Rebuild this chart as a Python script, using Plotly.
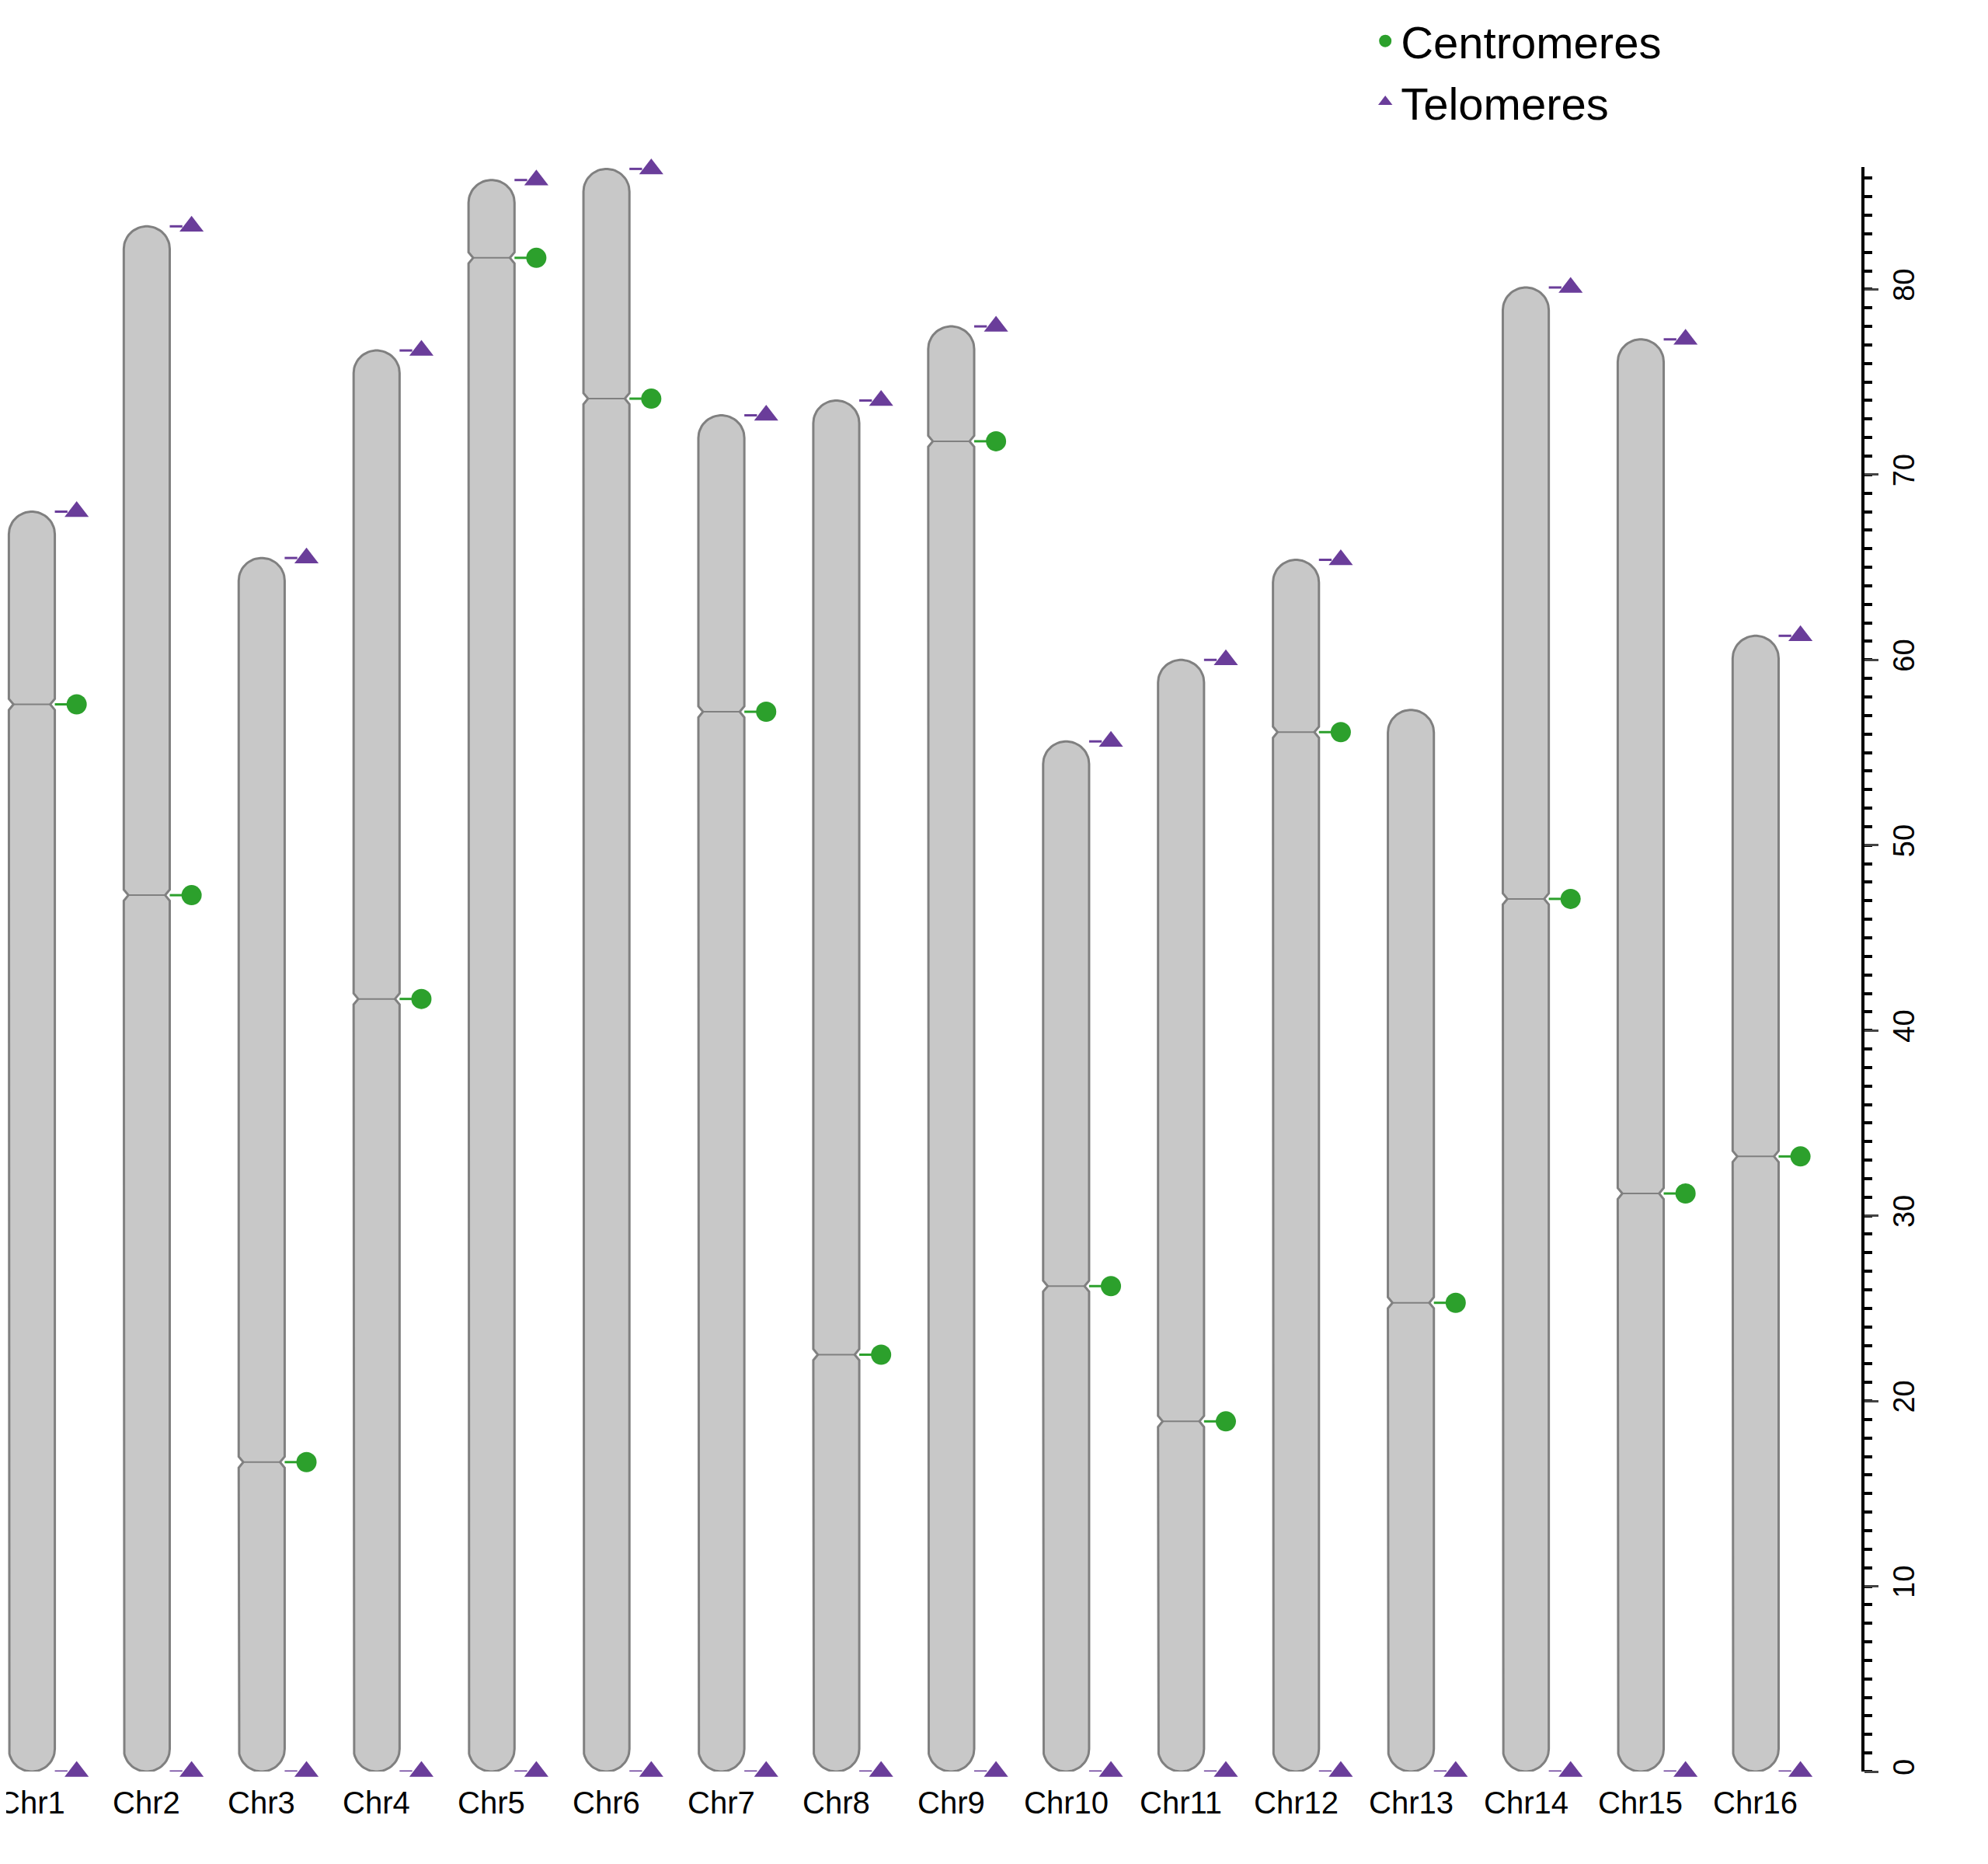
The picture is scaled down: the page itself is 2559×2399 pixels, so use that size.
import numpy as np
import plotly.graph_objects as go

chroms = ["Chr%d" % i for i in range(1, 17)]
lengths = [68.0, 83.4, 65.5, 76.7, 85.9, 86.5, 73.2, 74.0, 78.0, 55.6, 60.0, 65.4, 57.3, 80.1, 77.3, 61.3]
centromeres = [57.6, 47.3, 16.7, 41.7, 81.7, 74.1, 57.2, 22.5, 71.8, 26.2, 18.9, 56.1, 25.3, 47.1, 31.2, 33.2]
# chromosomes with a telomere at the top end (all but Chr13)
top_telo = [True] * 12 + [False] + [True] * 3

W = 0.2      # half width, x units
R = 1.22     # cap radius, y units
N = 0.04     # notch depth
H = 0.3      # notch half height

fig = go.Figure()
for i, (L, c) in enumerate(zip(lengths, centromeres)):
    t = np.linspace(0, np.pi, 30)
    xs, ys = [], []
    xs += [i + W, i + W, i + W - N, i + W, i + W]
    ys += [R, c - H, c, c + H, L - R]
    xs += list(i + W * np.cos(t)); ys += list(L - R + R * np.sin(t))
    xs += [i - W, i - W, i - W + N, i - W, i - W]
    ys += [L - R, c + H, c, c - H, R]
    xs += list(i - W * np.cos(t)); ys += list(R - R * np.sin(t))
    fig.add_trace(go.Scatter(x=xs, y=ys, fill="toself", fillcolor="#c8c8c8", mode="lines",
                             line=dict(color="#808080", width=3), showlegend=False, hoverinfo="skip"))
    fig.add_trace(go.Scatter(x=[i - W + N, i + W - N], y=[c, c], mode="lines",
                             line=dict(color="#808080", width=2), showlegend=False, hoverinfo="skip"))
    fig.add_trace(go.Scatter(x=[i + W, i + 0.36], y=[c, c], mode="lines",
                             line=dict(color="#2ca02c", width=3), showlegend=False, hoverinfo="skip"))
    tys = [0] + ([L] if top_telo[i] else [])
    for ty in tys:
        fig.add_trace(go.Scatter(x=[i + 0.2, i + 0.31], y=[ty, ty], mode="lines",
                                 line=dict(color="#6a3d9a", width=3), showlegend=False, hoverinfo="skip"))

fig.add_trace(go.Scatter(x=[i + 0.39 for i in range(16)], y=centromeres, mode="markers",
                         marker=dict(symbol="circle", size=26, color="#2ca02c"), name="Centromeres", cliponaxis=False))
tx = [i + 0.39 for i in range(16)] + [i + 0.39 for i in range(16) if top_telo[i]]
ty = [0] * 16 + [L for L, t in zip(lengths, top_telo) if t]
fig.add_trace(go.Scatter(x=tx, y=ty, mode="markers",
                         marker=dict(symbol="triangle-up", size=27, color="#6a3d9a"), name="Telomeres", cliponaxis=False))

for i, name in enumerate(chroms):
    fig.add_annotation(x=i, y=0, xref="x", yref="y", text=name, showarrow=False,
                       yshift=-40, font=dict(size=40))

fig.update_layout(
    width=2559, height=2399, plot_bgcolor="white", paper_bgcolor="white",
    margin=dict(l=0, r=171, t=194, b=127),
    font=dict(family="Liberation Sans, Arial", size=38, color="black"),
    legend=dict(x=0.735, y=1.1, xanchor="left", yanchor="top", font=dict(size=58),
                bgcolor="rgba(0,0,0,0)"),
    xaxis=dict(range=[-0.223, 15.92], showticklabels=False,
               showgrid=False, zeroline=False, showline=False, ticks=""),
    yaxis=dict(range=[0, 86.6], side="right", showgrid=False, zeroline=False, showline=True,
               linecolor="black", linewidth=4, ticks="outside", ticklen=18, tickwidth=3,
               tickvals=list(range(0, 81, 10)), tickangle=-90, tickfont=dict(size=38),
               minor=dict(dtick=1, ticks="outside", ticklen=10, tickwidth=4, tickcolor="black")),
)
fig.write_html("out.html")
